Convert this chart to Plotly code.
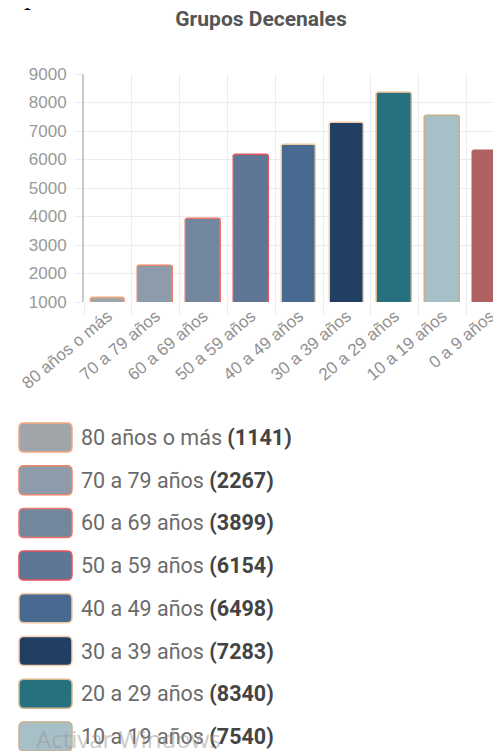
import plotly.graph_objects as go

# data
grupos = [
    "80 años o más", "70 a 79 años", "60 a 69 años", "50 a 59 años",
    "40 a 49 años", "30 a 39 años", "20 a 29 años", "10 a 19 años", "0 a 9 años",
]
personas = [1141, 2267, 3899, 6154, 6498, 7283, 8340, 7540, 6290]
legend_values = [1141, 2267, 3899, 6154, 6498, 7283, 8340, 7540]
y_ticks = [1000, 2000, 3000, 4000, 5000, 6000, 7000, 8000, 9000]

fills = ["#a0a5aa", "#8d9bab", "#72879d", "#5f7794", "#486a91",
         "#213f63", "#27707f", "#a7bfc6", "#b06263"]
borders = ["#f5a77e", "#f2836b", "#f0736c", "#e8525f", "#f2c8a0",
           "#f3cdb0", "#d8b88a", "#c9b08a", "#b06263"]

OFF = 8  # page body margin
W, H = 501 - OFF, 751 - OFF
L, T, B = 84, 74, 302  # plot area in screen pixels


def px_x(x):
    return (x - L) / (W + OFF - L)


def px_y(y):
    return (B - y) / (B - T)


def rounded_rect(x0, y0, x1, y1, r):
    p = lambda x, y: f"{px_x(x):.5f},{px_y(y):.5f}"
    return " ".join([
        f"M {p(x0 + r, y0)}", f"L {p(x1 - r, y0)}",
        f"Q {p(x1, y0)} {p(x1, y0 + r)}", f"L {p(x1, y1 - r)}",
        f"Q {p(x1, y1)} {p(x1 - r, y1)}", f"L {p(x0 + r, y1)}",
        f"Q {p(x0, y1)} {p(x0, y1 - r)}", f"L {p(x0, y0 + r)}",
        f"Q {p(x0, y0)} {p(x0 + r, y0)} Z",
    ])


fig = go.Figure()
fig.add_trace(go.Bar(
    x=grupos, y=personas, width=0.72,
    marker=dict(color=fills, line=dict(color=borders, width=1.5), cornerradius=3),
    showlegend=False,
))

# custom legend below the chart
shapes = []
annotations = []
for i, (g, v) in enumerate(zip(grupos, legend_values)):
    top = 423 + i * 42.7
    shapes.append(dict(
        type="path", xref="paper", yref="paper",
        path=rounded_rect(19, top, 72, top + 29, 5),
        fillcolor=fills[i], line=dict(color=borders[i], width=1.5),
    ))
    annotations.append(dict(
        xref="paper", yref="paper", x=px_x(79), y=px_y(top + 14.5),
        xanchor="left", yanchor="middle", showarrow=False,
        text=f"{g} <span style='color:#444'><b>({v})</b></span>",
        font=dict(family="Roboto", size=21.5, color="#6b6b6b"),
    ))

annotations.append(dict(
    xref="paper", yref="paper", x=px_x(34), y=px_y(738),
    xanchor="left", yanchor="middle", showarrow=False,
    text="Activar Windows",
    font=dict(family="Open Sans", size=24, color="rgba(150,150,150,0.5)"),
))
# cut-off letter from the surrounding page
annotations.append(dict(
    xref="paper", yref="paper", x=px_x(22), y=px_y(10),
    xanchor="left", yanchor="bottom", showarrow=False, yshift=-2,
    text="<i>p</i>",
    font=dict(family="Liberation Serif", size=28, color="#111"),
))

fig.update_layout(
    width=W, height=H, template="none",
    margin=dict(l=L - OFF, r=0, t=T - OFF, b=H - (B - OFF), pad=0),
    paper_bgcolor="white", plot_bgcolor="white",
    title=dict(
        text="<b>Grupos Decenales</b>", x=px_x(261), xref="paper", xanchor="center",
        y=1 - (19 - OFF) / H, yanchor="middle",
        font=dict(family="Roboto", size=21, color="#555"),
    ),
    bargap=0,
    shapes=shapes,
    annotations=annotations,
)
fig.update_xaxes(
    range=[-0.5, -0.5 + (W + OFF - L) / 47.8], tickson="boundaries",
    showgrid=True, gridcolor="#ececec", gridwidth=1,
    ticks="outside", ticklen=12, tickcolor="#ececec",
    tickangle=-40, automargin=False,
    tickfont=dict(family="Liberation Sans", size=17, color="#919191"),
    showline=False, zeroline=False,
)
fig.update_yaxes(
    range=[1000, 9000], tickvals=y_ticks,
    showgrid=True, gridcolor="#ececec", gridwidth=1,
    ticks="outside", ticklen=8, tickcolor="#ececec", ticklabelstandoff=4,
    showline=True, linecolor="#c8c8c8", linewidth=2,
    automargin=False, zeroline=False,
    tickfont=dict(family="Liberation Sans", size=17, color="#999"),
)

fig.write_html("out.html")
